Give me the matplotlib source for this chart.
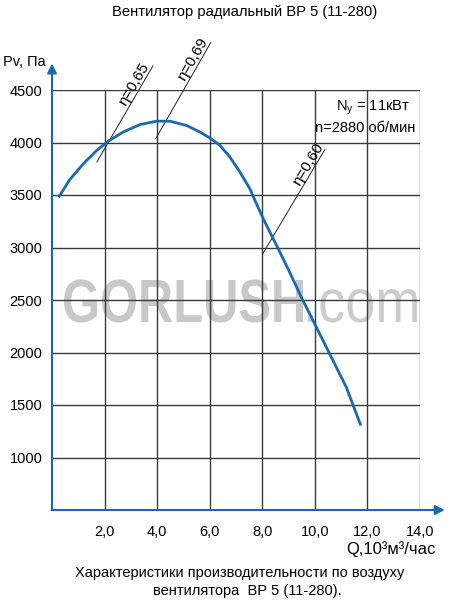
import numpy as np
import matplotlib.pyplot as plt
from matplotlib.textpath import TextPath
from matplotlib.patches import PathPatch
from matplotlib.font_manager import FontProperties
from matplotlib.transforms import Affine2D

plt.rcParams['font.family'] = ['Liberation Sans', 'DejaVu Sans']

# характеристика вентилятора (Q, 10^3 м3/час ; Pv, Па)
q = [0.28, 0.68, 1.19, 1.70, 2.14, 2.71, 3.35, 3.98, 4.49, 5.12, 5.62, 6.00,
     6.38, 6.76, 7.14, 7.52, 7.77, 8.03, 8.28, 8.60, 9.05, 9.49, 10.00, 10.57,
     11.20, 11.73]
pv = [3490, 3648, 3797, 3924, 4013, 4100, 4171, 4203, 4203, 4162, 4101, 4044,
      3975, 3864, 3722, 3563, 3421, 3278, 3152, 2992, 2760, 2524, 2270, 1984,
      1667, 1317]

# линии КПД: (подпись, q1, p1, q2, p2)
eta_lbl = ['η=0,65', 'η=0,69', 'η=0,60']
eta_q1 = [1.71, 3.95, 8.0]
eta_p1 = [3815, 4038, 2933]
eta_q2 = [3.84, 6.04, 10.38]
eta_p2 = [4730, 4952, 3933]
eta_pos = [0.77, 0.79, 0.83]

xticks = [2, 4, 6, 8, 10, 12, 14]
yticks = [1000, 1500, 2000, 2500, 3000, 3500, 4000, 4500]

blue = '#1769b8'
grid = '#3a3a3a'

fig = plt.figure(figsize=(4.5, 6), dpi=100)
ax = fig.add_axes([52/450, 90/600, 368/450, 420/600])
ax.set_xlim(0, 14)
ax.set_ylim(500, 4500)

for xv in xticks:
    ax.axvline(xv, color=grid, lw=1, zorder=1)
for yv in yticks:
    ax.axhline(yv, color=grid, lw=1, zorder=1)

ax.set_xticks(xticks)
ax.set_xticklabels([('%.1f' % v).replace('.', ',') for v in xticks], fontsize=10.5)
ax.set_yticks(yticks)
ax.set_yticklabels([str(v) for v in yticks], fontsize=10.5)
ax.tick_params(axis='y', length=0, pad=7)
ax.tick_params(axis='x', length=0, pad=11)
for s in ['top', 'right']:
    ax.spines[s].set_visible(False)
for s in ['left', 'bottom']:
    ax.spines[s].set_color(blue)
    ax.spines[s].set_linewidth(1.5)
    ax.spines[s].set_zorder(3)

# стрелки осей
ax.annotate('', xy=(15.05, 500), xytext=(13.9, 500), annotation_clip=False,
            arrowprops=dict(arrowstyle='-|>', color=blue, lw=1.5, mutation_scale=14))
ax.annotate('', xy=(0, 4780), xytext=(0, 4480), annotation_clip=False,
            arrowprops=dict(arrowstyle='-|>', color=blue, lw=1.5, mutation_scale=14))

# водяной знак (сжатый шрифт)
wm1 = TextPath((0, 0), 'GORLUSH', size=61,
               prop=FontProperties(family='Liberation Sans', weight='bold'))
wm2 = TextPath((0, 0), '.com', size=61, prop=FontProperties(family='Liberation Sans'))
sx1 = 241 / wm1.get_extents().x1
sx2 = 114 / wm2.get_extents().x1
fig.add_artist(PathPatch(wm1, transform=Affine2D().scale(sx1, 1).translate(62, 600 - 322),
                         color='#c8c8c8', lw=0, zorder=0))
fig.add_artist(PathPatch(wm2, transform=Affine2D().scale(sx2, 1).translate(303, 600 - 322),
                         color='#cccccc', lw=0, zorder=0))
ax.set_facecolor('none')
ax.set_zorder(1)

ax.plot(q, pv, color=blue, lw=2, zorder=4, solid_joinstyle='round')

for lbl, a1, b1, a2, b2, t in zip(eta_lbl, eta_q1, eta_p1, eta_q2, eta_p2, eta_pos):
    ax.plot([a1, a2], [b1, b2], color='#222222', lw=0.7, clip_on=False, zorder=2)
    p1 = ax.transData.transform((a1, b1))
    p2 = ax.transData.transform((a2, b2))
    ang = np.degrees(np.arctan2(p2[1] - p1[1], p2[0] - p1[0]))
    ax.text(a1 + t * (a2 - a1), b1 + t * (b2 - b1), lbl, rotation=ang,
            rotation_mode='anchor', ha='center', va='bottom', fontsize=11,
            zorder=5)

ax.text(13.63, 4329, r'N$_\mathregular{y}$ = 11кВт', ha='right', va='center', fontsize=10.5)
ax.text(13.81, 4138, 'n=2880 об/мин', ha='right', va='center', fontsize=10.5)

fig.text(24/450, 1 - 62/600, 'Pv, Па', ha='center', va='center', fontsize=10.5)
fig.text(436/450, 1 - 549/600, 'Q,10³м³/час', ha='right', va='center', fontsize=12)
fig.text(245/450, 1 - 12/600, 'Вентилятор радиальный ВР 5 (11-280)', ha='center', va='center', fontsize=10.6)
fig.text(240/450, 1 - 573/600, 'Характеристики производительности по воздуху', ha='center', va='center', fontsize=10.5)
fig.text(247/450, 1 - 591/600, 'вентилятора  ВР 5 (11-280).', ha='center', va='center', fontsize=10.5)

fig.savefig('out.png', dpi=100)
